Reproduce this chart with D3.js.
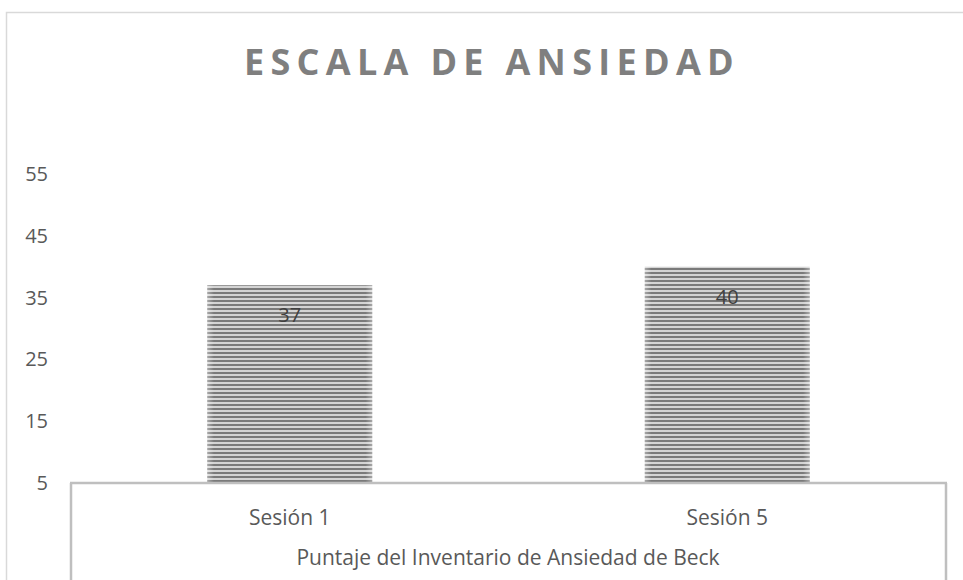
<!DOCTYPE html>
<html>
<head>
<meta charset="utf-8">
<script src="https://cdn.jsdelivr.net/npm/d3@7"></script>
<style>
  body { margin:0; background:#fff; }
  svg text { font-family:"Open Sans", sans-serif; }
</style>
</head>
<body>
<svg id="chart" width="963" height="580"></svg>
<script>
// chart data
var categories = ["Sesión 1", "Sesión 5"];
var scores = [37, 40];
var yTicks = [5, 15, 25, 35, 45, 55];
var chartTitle = "ESCALA DE ANSIEDAD";
var axisTitle = "Puntaje del Inventario de Ansiedad de Beck";

var svg = d3.select("#chart");

// outer chart frame
svg.append("rect")
    .attr("x",6.5).attr("y",12.5)
    .attr("width",960).attr("height",600)
    .attr("fill","none")
    .attr("stroke","#d9d9d9")
    .attr("stroke-width",1.5);

// striped fill
var defs = svg.append("defs");
var pat = defs.append("pattern")
    .attr("id","stripes")
    .attr("patternUnits","userSpaceOnUse")
    .attr("width",8).attr("height",4);
pat.append("rect").attr("width",8).attr("height",4).attr("fill","#d4d4d4");
pat.append("rect").attr("y",0).attr("width",8).attr("height",2).attr("fill","#7a7a7a");

var edge = defs.append("linearGradient").attr("id","edge");
edge.append("stop").attr("offset","0%").attr("stop-color","#fff").attr("stop-opacity",0.35);
edge.append("stop").attr("offset","4%").attr("stop-color","#fff").attr("stop-opacity",0);
edge.append("stop").attr("offset","96%").attr("stop-color","#fff").attr("stop-opacity",0);
edge.append("stop").attr("offset","100%").attr("stop-color","#fff").attr("stop-opacity",0.35);

var xScale = d3.scaleBand()
    .domain(categories)
    .range([71,946])
    .paddingInner(0.623)
    .paddingOuter(0.3115);

var yScale = d3.scaleLinear()
    .domain([5,55])
    .range([483,174]);

// title
svg.append("text")
    .attr("x",492).attr("y",75)
    .attr("text-anchor","middle")
    .attr("font-size",36)
    .attr("font-weight","bold")
    .attr("letter-spacing",6.3)
    .attr("fill","#7f7f7f")
    .text(chartTitle);

// y tick labels
svg.append("g")
    .selectAll("text")
    .data(yTicks)
    .enter()
    .append("text")
    .attr("x",48)
    .attr("y",function(d){ return yScale(d) + 7; })
    .attr("text-anchor","end")
    .attr("font-size",20)
    .attr("fill","#595959")
    .text(function(d){ return d; });

// bars
var bars = svg.append("g");
bars.selectAll("rect.bar")
    .data(scores)
    .enter()
    .append("rect")
    .classed("bar",true)
    .attr("x",function(d,i){ return xScale(categories[i]); })
    .attr("y",function(d){ return yScale(d); })
    .attr("width",xScale.bandwidth())
    .attr("height",function(d){ return yScale(yTicks[0]) - yScale(d); })
    .attr("fill","url(#stripes)");
bars.selectAll("rect.shade")
    .data(scores)
    .enter()
    .append("rect")
    .classed("shade",true)
    .attr("x",function(d,i){ return xScale(categories[i]); })
    .attr("y",function(d){ return yScale(d); })
    .attr("width",xScale.bandwidth())
    .attr("height",function(d){ return yScale(yTicks[0]) - yScale(d); })
    .attr("fill","url(#edge)");

// value labels
svg.append("g")
    .selectAll("text")
    .data(scores)
    .enter()
    .append("text")
    .attr("x",function(d,i){ return xScale(categories[i]) + xScale.bandwidth()/2; })
    .attr("y",function(d){ return yScale(d) + 37; })
    .attr("text-anchor","middle")
    .attr("font-size",20)
    .attr("fill","#404040")
    .text(function(d){ return d; });

// axis lines (table-like frame under the bars)
var axisColor = "#bfbfbf";
var base = yScale(yTicks[0]);
svg.append("line")
    .attr("x1",70).attr("x2",947)
    .attr("y1",base).attr("y2",base)
    .attr("stroke",axisColor).attr("stroke-width",2.5);
svg.append("line")
    .attr("x1",71).attr("x2",71)
    .attr("y1",base).attr("y2",580)
    .attr("stroke",axisColor).attr("stroke-width",2.5);
svg.append("line")
    .attr("x1",946).attr("x2",946)
    .attr("y1",base).attr("y2",580)
    .attr("stroke",axisColor).attr("stroke-width",2.5);

// category labels
svg.append("g")
    .selectAll("text")
    .data(categories)
    .enter()
    .append("text")
    .attr("x",function(d){ return xScale(d) + xScale.bandwidth()/2; })
    .attr("y",525)
    .attr("text-anchor","middle")
    .attr("font-size",21)
    .attr("fill","#595959")
    .text(function(d){ return d; });

// axis title
svg.append("text")
    .attr("x",508).attr("y",565)
    .attr("text-anchor","middle")
    .attr("font-size",21)
    .attr("fill","#595959")
    .text(axisTitle);
</script>
</body>
</html>
